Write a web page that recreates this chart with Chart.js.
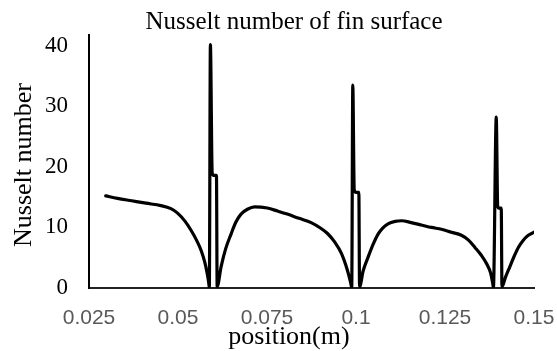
<!DOCTYPE html>
<html>
<head>
<meta charset="utf-8">
<script src="https://cdn.jsdelivr.net/npm/chart.js@4"></script>
<style>
  html, body { margin: 0; padding: 0; background: #fff; }
  #wrap { width: 557px; height: 351px; }
</style>
</head>
<body>
<div id="wrap"><canvas id="nuChart" width="557" height="351"></canvas></div>
<script>
// position along fin surface (m)
const positions = [
  0.0297, 0.033, 0.037, 0.041, 0.0452, 0.048, 0.0498, 0.052, 0.0537, 0.0552,
  0.0565, 0.0575, 0.0582, 0.0586, 0.0588, 0.0591, 0.0596, 0.0600, 0.0608, 0.0610,
  0.0621, 0.0634, 0.0649, 0.0662, 0.0677, 0.0695, 0.0715, 0.0751, 0.0780, 0.0807,
  0.0840, 0.0874, 0.0900, 0.0920, 0.0940, 0.0959, 0.0976, 0.0985, 0.0988, 0.0991,
  0.0995, 0.1000, 0.1008, 0.1010, 0.1020, 0.1034, 0.1048, 0.1062, 0.1075, 0.1090,
  0.1110, 0.1128, 0.1155, 0.1184, 0.1212, 0.1240, 0.1268, 0.1296, 0.1316, 0.1334,
  0.1352, 0.1367, 0.1378, 0.1384, 0.1386, 0.1394, 0.1398, 0.1401, 0.1408, 0.1410,
  0.1420, 0.1432, 0.1444, 0.1456, 0.1470, 0.1484, 0.1500
];
const nusselt = [
  15.2, 14.8, 14.4, 14.0, 13.6, 13.1, 12.4, 11.0, 9.5, 7.9,
  6.2, 4.3, 2.4, 1.0, 0.1, 40.2, 19.0, 18.6, 18.6, 0.2,
  3.5, 6.5, 8.9, 10.8, 12.2, 13.0, 13.4, 13.2, 12.7, 12.2,
  11.5, 10.8, 9.9, 9.0, 7.6, 5.7, 2.9, 0.9, 0.1, 33.5,
  16.2, 15.8, 15.8, 0.2, 2.8, 5.1, 7.2, 8.9, 9.9, 10.6,
  11.0, 11.1, 10.8, 10.4, 10.0, 9.7, 9.2, 8.7, 7.9, 6.7,
  5.4, 4.0, 2.5, 0.8, 0.1, 28.2, 13.5, 13.2, 13.2, 0.2,
  1.8, 3.5, 5.2, 6.7, 7.9, 8.7, 9.2
];
const xTicks = [0.025, 0.05, 0.075, 0.1, 0.125, 0.15];
const xTickLabels = ['0.025', '0.05', '0.075', '0.1', '0.125', '0.15'];
const yTicks = [0, 10, 20, 30, 40];

const chartTitle = 'Nusselt number of fin surface';
const xTitle = 'position(m)';
const yTitle = 'Nusselt number';

// titles are placed by hand, Excel did not centre them on the plot
const titlesPlugin = {
  id: 'titles',
  afterDraw(chart) {
    const c = chart.ctx;
    c.save();
    c.fillStyle = '#000';
    c.textAlign = 'center';
    c.textBaseline = 'middle';
    c.font = '25px "Liberation Serif", "Times New Roman", serif';
    c.fillText(chartTitle, 294, 22);
    c.font = '26px "Liberation Serif", "Times New Roman", serif';
    c.fillText(xTitle, 289, 337);
    c.translate(24, 165);
    c.rotate(-Math.PI / 2);
    c.fillText(yTitle, 0, 0);
    c.restore();
  }
};

const ctx = document.getElementById('nuChart').getContext('2d');
new Chart(ctx, {
  type: 'line',
  data: {
    datasets: [{
      data: positions.map((x, i) => ({ x: x, y: nusselt[i] })),
      borderColor: '#000',
      borderWidth: 3.2,
      pointRadius: 0,
      fill: false,
      cubicInterpolationMode: 'monotone',
      borderCapStyle: 'round',
      borderJoinStyle: 'round'
    }]
  },
  options: {
    responsive: false,
    animation: false,
    layout: { padding: { top: 32, right: 0, left: 0, bottom: 0 } },
    plugins: {
      legend: { display: false },
      tooltip: { enabled: false }
    },
    scales: {
      x: {
        type: 'linear',
        min: 0.025,
        max: 0.15,
        afterBuildTicks: s => { s.ticks = xTicks.map(v => ({ value: v })); },
        afterFit: s => { s.height = 63; s.paddingLeft = 0; s.paddingRight = 23; },
        grid: { display: false, drawTicks: false },
        border: { display: true, color: '#222', width: 2 },
        ticks: {
          padding: 18,
          maxRotation: 0,
          color: '#595959',
          font: { family: '"Liberation Sans", Arial, sans-serif', size: 21 },
          callback: (v) => {
            const i = xTicks.findIndex(t => Math.abs(t - v) < 1e-9);
            return i >= 0 ? xTickLabels[i] : '';
          }
        }
      },
      y: {
        min: 0,
        max: 41.8,
        afterBuildTicks: s => { s.ticks = yTicks.map(v => ({ value: v })); },
        afterFit: s => { s.width = 89; },
        grid: { display: false, drawTicks: false },
        border: { display: true, color: '#000', width: 2 },
        ticks: {
          padding: 21,
          color: '#000',
          font: { family: '"Liberation Serif", "Times New Roman", serif', size: 23 }
        }
      }
    }
  },
  plugins: [titlesPlugin]
});
</script>
</body>
</html>
